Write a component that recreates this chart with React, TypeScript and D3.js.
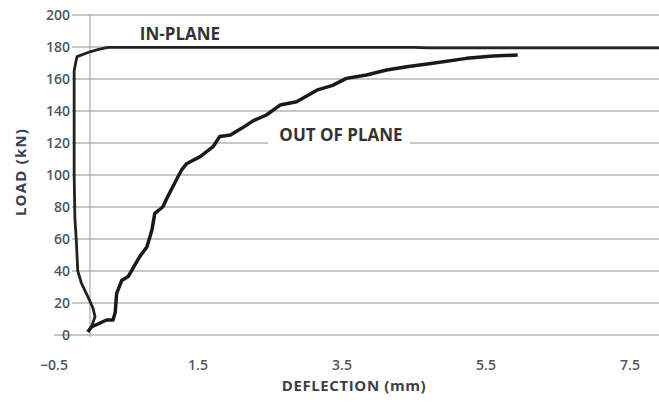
import React from "react";
import * as d3 from "d3";

// load (kN) vs deflection (mm)
const inPlane: [number, number][] = [
  [-0.03, 2], [0.02, 5], [0.07, 11.5], [0.04, 17], [-0.03, 24], [-0.12, 32.5],
  [-0.17, 40], [-0.19, 59], [-0.21, 73], [-0.22, 100], [-0.22, 140],
  [-0.22, 165], [-0.2, 170], [-0.18, 174], [0.0, 177], [0.12, 178.5],
  [0.25, 179.8], [4.5, 179.8], [4.7, 179.4], [8.2, 179.4],
];

const outOfPlane: [number, number][] = [
  [-0.03, 2], [0.02, 5], [0.14, 7.5], [0.23, 9.4], [0.32, 9.4], [0.35, 14],
  [0.37, 26], [0.44, 34], [0.53, 36.5], [0.6, 42], [0.69, 49], [0.79, 55],
  [0.86, 65.6], [0.9, 76], [1.01, 80], [1.08, 86.5], [1.15, 92.7], [1.2, 97],
  [1.27, 103], [1.34, 107], [1.53, 111.5], [1.62, 114.6], [1.71, 117.7],
  [1.8, 124], [1.95, 125], [2.1, 129], [2.27, 134], [2.45, 137.5],
  [2.64, 143.7], [2.87, 145.8], [3.15, 153], [3.37, 156], [3.56, 160.4],
  [3.84, 162.5], [4.12, 165.6], [4.4, 167.7], [4.76, 169.8], [5.23, 172.9],
  [5.6, 174.4], [5.94, 175],
];

const yTicks = [0, 20, 40, 60, 80, 100, 120, 140, 160, 180, 200];
const xTicks = [-0.5, 1.5, 3.5, 5.5, 7.5];

const W = 659;
const H = 404;

export default function App() {
  const ref = React.useRef<SVGSVGElement>(null);

  React.useEffect(() => {
    const svg = d3.select(ref.current);
    svg.selectAll("*").remove();

    const x = d3.scaleLinear().domain([-0.5, 7.5]).range([54, 630]);
    const y = d3.scaleLinear().domain([0, 200]).range([335, 15]);
    const font = "'Open Sans', sans-serif";
    const grey = "#4f5663";

    svg.append("rect").attr("width", W).attr("height", H).attr("fill", "#fff");

    // gridlines
    svg.append("g")
      .selectAll("line")
      .data(yTicks)
      .join("line")
      .attr("x1", d => (d === 0 ? 54 : 72))
      .attr("x2", W)
      .attr("y1", d => y(d))
      .attr("y2", d => y(d))
      .attr("stroke", "#b5b5b5")
      .attr("stroke-width", 1.6);

    // y axis at x = 0
    svg.append("line")
      .attr("x1", x(0)).attr("x2", x(0))
      .attr("y1", y(200)).attr("y2", y(0) + 2)
      .attr("stroke", "#a8a8a8")
      .attr("stroke-width", 1.2);

    // tick labels
    svg.append("g")
      .selectAll("text")
      .data(yTicks)
      .join("text")
      .attr("x", 70)
      .attr("y", d => y(d))
      .attr("dy", "0.35em")
      .attr("text-anchor", "end")
      .attr("font-family", font)
      .attr("font-size", 14)
      .attr("font-weight", 600)
      .attr("fill", grey)
      .text(d => d);

    svg.append("g")
      .selectAll("text")
      .data(xTicks)
      .join("text")
      .attr("x", d => x(d))
      .attr("y", 365)
      .attr("dy", "0.35em")
      .attr("text-anchor", "middle")
      .attr("font-family", font)
      .attr("font-size", 14)
      .attr("font-weight", 600)
      .attr("fill", grey)
      .text(d => d3.format(".1f")(d));

    const line = d3.line<[number, number]>()
      .x(d => x(d[0]))
      .y(d => y(d[1]));

    svg.append("path")
      .datum(inPlane)
      .attr("d", line)
      .attr("fill", "none")
      .attr("stroke", "#222")
      .attr("stroke-width", 2.8)
      .attr("stroke-linejoin", "round");

    svg.append("path")
      .datum(outOfPlane)
      .attr("d", line)
      .attr("fill", "none")
      .attr("stroke", "#1a1a1a")
      .attr("stroke-width", 3.5)
      .attr("stroke-linejoin", "round");

    // series labels
    svg.append("text")
      .attr("x", 180).attr("y", 34)
      .attr("dy", "0.35em")
      .attr("text-anchor", "middle")
      .attr("font-family", font)
      .attr("font-weight", "bold")
      .attr("font-size", 17)
      .attr("fill", "#333")
      .text("IN-PLANE");

    svg.append("rect")
      .attr("x", 268).attr("y", 126)
      .attr("width", 142).attr("height", 19)
      .attr("fill", "#fff");
    svg.append("text")
      .attr("x", 341).attr("y", 135)
      .attr("dy", "0.35em")
      .attr("text-anchor", "middle")
      .attr("font-family", font)
      .attr("font-weight", "bold")
      .attr("font-size", 17)
      .attr("fill", "#333")
      .text("OUT OF PLANE");

    // axis titles
    svg.append("text")
      .attr("x", 354).attr("y", 386)
      .attr("dy", "0.35em")
      .attr("text-anchor", "middle")
      .attr("font-family", font)
      .attr("font-weight", "bold")
      .attr("font-size", 15)
      .attr("letter-spacing", 0.6)
      .attr("fill", "#3c4048")
      .text("DEFLECTION (mm)");

    svg.append("text")
      .attr("transform", `translate(21,172) rotate(-90)`)
      .attr("dy", "0.35em")
      .attr("text-anchor", "middle")
      .attr("font-family", font)
      .attr("font-weight", "bold")
      .attr("font-size", 15)
      .attr("letter-spacing", 1.2)
      .attr("fill", "#3c4048")
      .text("LOAD (kN)");
  }, []);

  return (
    <svg
      ref={ref}
      width={W}
      height={H}
      style={{ position: "absolute", left: 0, top: 0 }}
    />
  );
}
